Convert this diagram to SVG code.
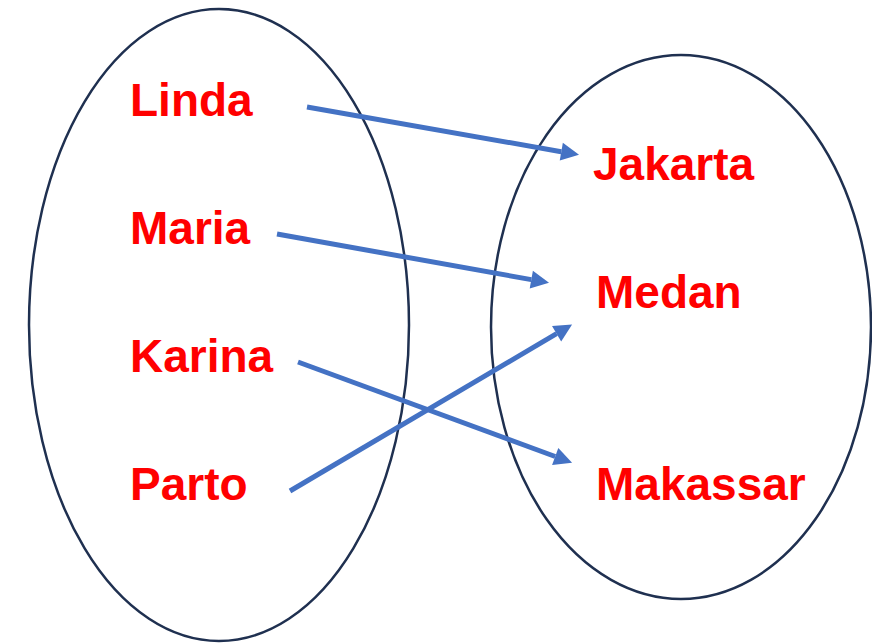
<svg xmlns="http://www.w3.org/2000/svg" width="872" height="643" viewBox="0 0 872 643">
<style>
.set{fill:none;stroke:#1F3050;stroke-width:2.5}
.lbl{font-family:"Liberation Sans",Arial,sans-serif;font-weight:bold;font-size:46px;fill:#FF0000}
.arr{stroke:#4472C4;stroke-width:5;fill:none;marker-end:url(#ah)}
</style>
<defs>
<marker id="ah" viewBox="0 0 10 10" refX="0" refY="5" markerWidth="3.8" markerHeight="3.6" orient="auto" markerUnits="strokeWidth" overflow="visible">
<path d="M0,0 L10,5 L0,10 z" fill="#4472C4"/>
</marker>
</defs>
<rect width="872" height="643" fill="#fff"/>
<g id="domain">
<ellipse class="set" cx="219" cy="325" rx="190" ry="316"/>
</g>
<g id="codomain">
<ellipse class="set" cx="681" cy="327" rx="190" ry="272"/>
</g>
<g id="node-linda"><text class="lbl" x="130" y="116">Linda</text></g>
<g id="node-maria"><text class="lbl" x="130" y="244">Maria</text></g>
<g id="node-karina"><text class="lbl" x="130" y="372">Karina</text></g>
<g id="node-parto"><text class="lbl" x="130" y="500">Parto</text></g>
<g id="node-jakarta"><text class="lbl" x="593" y="180">Jakarta</text></g>
<g id="node-medan"><text class="lbl" x="596" y="308">Medan</text></g>
<g id="node-makassar"><text class="lbl" x="596" y="500">Makassar</text></g>
<g id="connectors">
<line class="arr" x1="307" y1="107" x2="561.3" y2="151.7"/>
<line class="arr" x1="277" y1="234" x2="531.3" y2="279.6"/>
<line class="arr" x1="298" y1="362" x2="555.2" y2="456.5"/>
<line class="arr" x1="290" y1="491" x2="556.6" y2="333.7"/>
</g>
</svg>
